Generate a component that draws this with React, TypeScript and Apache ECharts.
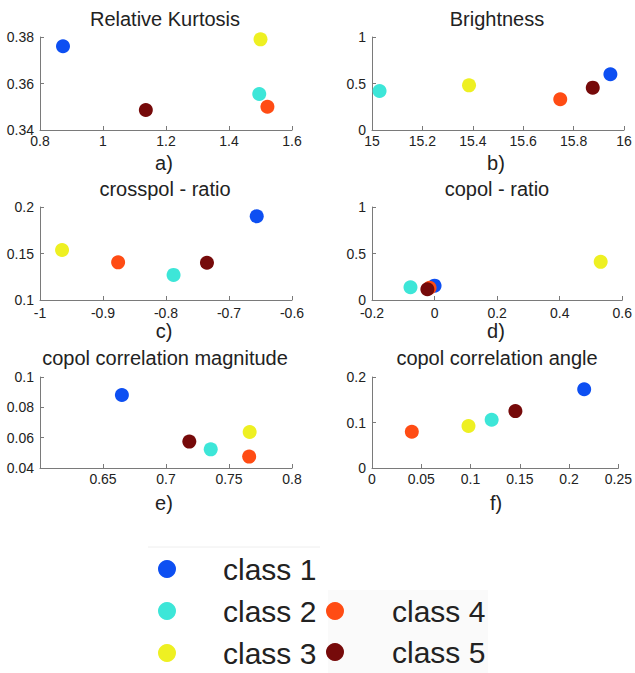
import React, { useEffect, useRef } from "react";
import * as echarts from "echarts";

const classNames = ["class 1", "class 2", "class 3", "class 4", "class 5"];
const classColors = ["#0d4ff2", "#3de6d8", "#eef022", "#ff4c14", "#760a0a"];

const titles = [
  "Relative Kurtosis",
  "Brightness",
  "crosspol - ratio",
  "copol - ratio",
  "copol correlation magnitude",
  "copol correlation angle",
];
const subLabels = ["a)", "b)", "c)", "d)", "e)", "f)"];

// per panel, values in class order 1..5
const kurtosisX = [0.873, 1.496, 1.5, 1.522, 1.136];
const kurtosisY = [0.376, 0.3555, 0.379, 0.35, 0.3486];
const brightnessX = [15.946, 15.03, 15.385, 15.747, 15.876];
const brightnessY = [0.6, 0.42, 0.48, 0.33, 0.455];
const crosspolX = [-0.656, -0.788, -0.965, -0.876, -0.735];
const crosspolY = [0.19, 0.127, 0.1538, 0.1405, 0.14];
const copolX = [0.0, -0.077, 0.531, -0.016, -0.023];
const copolY = [0.154, 0.137, 0.41, 0.132, 0.115];
const magnitudeX = [0.665, 0.7355, 0.7664, 0.766, 0.7185];
const magnitudeY = [0.0881, 0.0523, 0.0637, 0.0475, 0.0574];
const angleX = [0.2153, 0.1214, 0.0979, 0.0404, 0.1455];
const angleY = [0.173, 0.106, 0.0923, 0.0798, 0.125];

// axis ranges [min, max, interval]
const xRanges = [
  [0.8, 1.6, 0.2],
  [15, 16, 0.2],
  [-1, -0.6, 0.1],
  [-0.2, 0.6, 0.2],
  [0.6, 0.8, 0.05],
  [0, 0.25, 0.05],
];
const yRanges = [
  [0.34, 0.38, 0.02],
  [0, 1, 0.5],
  [0.1, 0.2, 0.05],
  [0, 1, 0.5],
  [0.04, 0.1, 0.02],
  [0, 0.2, 0.1],
];

const panelX = [kurtosisX, brightnessX, crosspolX, copolX, magnitudeX, angleX];
const panelY = [kurtosisY, brightnessY, crosspolY, copolY, magnitudeY, angleY];

const FONT = "Liberation Sans, Arial, Helvetica, sans-serif";

export default function App() {
  const ref = useRef<HTMLDivElement>(null);
  useEffect(() => {
    if (!ref.current) return;
    const chart = echarts.init(ref.current, undefined, { renderer: "svg" });
    const lefts = [40, 372];
    const tops = [37, 207, 377];
    const heights = [93, 93, 91];
    const grids: any[] = [];
    const xAxes: any[] = [];
    const yAxes: any[] = [];
    const series: any[] = [];
    const graphics: any[] = [];
    const fmt = (v: number) => String(Math.round(v * 10000) / 10000);
    for (let p = 0; p < 6; p++) {
      const col = p % 2;
      const row = Math.floor(p / 2);
      grids.push({ left: lefts[col], top: tops[row], width: 252, height: heights[row] });
      const axisCommon = {
        axisLine: { show: true, onZero: false, lineStyle: { color: "#7a7a7a", width: 1 } },
        axisTick: { show: true, inside: true, length: 4, lineStyle: { color: "#7a7a7a" } },
        splitLine: { show: false },
        axisLabel: { color: "#222", fontSize: 14, fontFamily: FONT, formatter: fmt },
      };
      xAxes.push({
        type: "value",
        gridIndex: p,
        min: xRanges[p][0],
        max: xRanges[p][1],
        interval: xRanges[p][2],
        ...axisCommon,
        axisLabel: { ...axisCommon.axisLabel, margin: row === 1 ? 6 : 4, showMinLabel: p !== 4 },
      });
      yAxes.push({
        type: "value",
        gridIndex: p,
        min: yRanges[p][0],
        max: yRanges[p][1],
        interval: yRanges[p][2],
        ...axisCommon,
        axisLabel: { ...axisCommon.axisLabel, margin: 6 },
      });
      for (let c = 0; c < 5; c++) {
        series.push({
          type: "scatter",
          name: classNames[c],
          xAxisIndex: p,
          yAxisIndex: p,
          symbol: "circle",
          symbolSize: 14,
          itemStyle: { color: classColors[c], opacity: 1 },
          data: [[panelX[p][c], panelY[p][c]]],
        });
      }
      const cx = lefts[col] + 125;
      graphics.push({
        type: "text",
        x: cx,
        y: [19, 189, 358][row],
        style: {
          text: titles[p],
          fontSize: 20,
          fontFamily: FONT,
          fill: "#222",
          textAlign: "center",
          textVerticalAlign: "middle",
        },
      });
      graphics.push({
        type: "text",
        x: cx - 1,
        y: [163, 331, 503][row],
        style: {
          text: subLabels[p],
          fontSize: 20,
          fontFamily: FONT,
          fill: "#222",
          textAlign: "center",
          textVerticalAlign: "middle",
        },
      });
    }
    graphics.unshift({
      type: "rect",
      shape: { x: 328, y: 590, width: 160, height: 83 },
      style: { fill: "#fafafa" },
      silent: true,
    });
    graphics.unshift({
      type: "line",
      shape: { x1: 148, y1: 547, x2: 320, y2: 547 },
      style: { stroke: "#eee", lineWidth: 1 },
      silent: true,
    });
    const legendText = { fontSize: 30, fontFamily: FONT, color: "#222", lineHeight: 30 };
    chart.setOption({
      animation: false,
      backgroundColor: "#fff",
      grid: grids,
      xAxis: xAxes,
      yAxis: yAxes,
      series,
      graphic: graphics,
      legend: [
        {
          orient: "vertical",
          left: 158,
          top: 554,
          itemWidth: 18,
          itemHeight: 18,
          itemGap: 12,
          icon: "circle",
          padding: 0,
          data: classNames.slice(0, 3),
          textStyle: { ...legendText, padding: [0, 0, 0, 42] },
          selectedMode: false,
        },
        {
          orient: "vertical",
          left: 326,
          top: 596,
          itemWidth: 18,
          itemHeight: 18,
          itemGap: 11,
          icon: "circle",
          padding: 0,
          data: classNames.slice(3),
          textStyle: { ...legendText, padding: [0, 0, 0, 43] },
          selectedMode: false,
        },
      ],
    });
    return () => chart.dispose();
  }, []);
  return (
    <div
      ref={ref}
      style={{ position: "fixed", left: 0, top: 0, width: 635, height: 673, background: "#fff" }}
    />
  );
}
